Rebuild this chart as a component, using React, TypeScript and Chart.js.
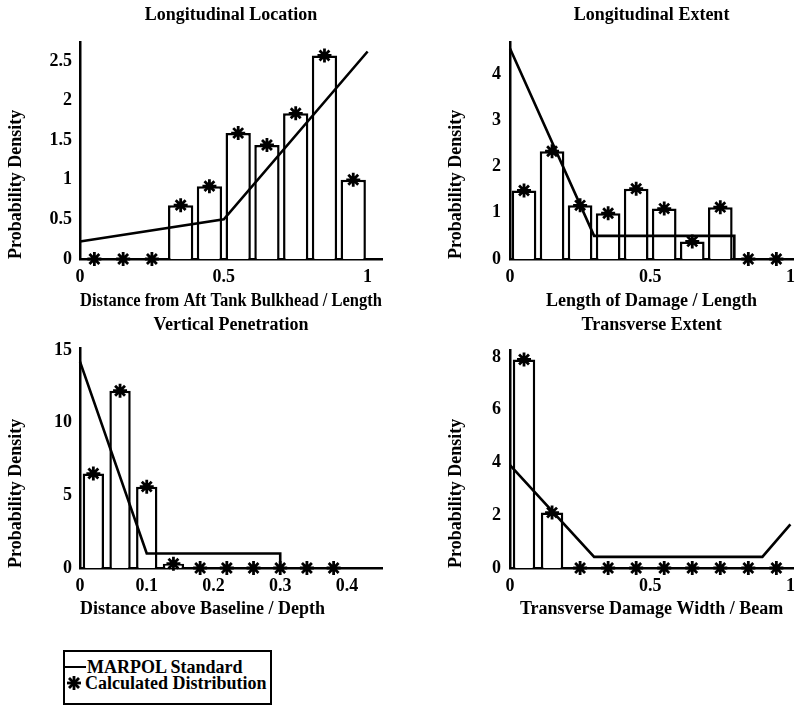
import React, { useEffect, useRef } from "react";
import { Chart, registerables } from "chart.js";

Chart.register(...registerables);

const FONT_FAMILY = "'Liberation Serif', 'Times New Roman', Times, serif";
Chart.defaults.font.family = FONT_FAMILY;
Chart.defaults.font.size = 18;
Chart.defaults.font.weight = "bold";
Chart.defaults.color = "#000";

// ---------- Data ----------
// Longitudinal Location
const locBinCenters = [0.05, 0.15, 0.25, 0.35, 0.45, 0.55, 0.65, 0.75, 0.85, 0.95];
const locCalculated = [0, 0, 0, 0.68, 0.92, 1.59, 1.44, 1.84, 2.57, 1.0];
const locMarpolX = [0, 0.5, 1.0];
const locMarpolY = [0.22, 0.5, 2.62];
const locXTicks = [0, 0.5, 1];
const locXTickLabels = ["0", "0.5", "1"];
const locYTicks = [0, 0.5, 1, 1.5, 2, 2.5];
const locYTickLabels = ["0", "0.5", "1", "1.5", "2", "2.5"];

// Longitudinal Extent
const extBinCenters = [0.05, 0.15, 0.25, 0.35, 0.45, 0.55, 0.65, 0.75, 0.85, 0.95];
const extCalculated = [1.48, 2.33, 1.16, 0.99, 1.52, 1.09, 0.38, 1.12, 0, 0];
const extMarpolX = [0, 0.3, 0.8, 0.8];
const extMarpolY = [4.55, 0.5, 0.5, 0];
const extXTicks = [0, 0.5, 1];
const extXTickLabels = ["0", "0.5", "1"];
const extYTicks = [0, 1, 2, 3, 4];
const extYTickLabels = ["0", "1", "2", "3", "4"];

// Vertical Penetration
const vertBinCenters = [0.02, 0.06, 0.1, 0.14, 0.18, 0.22, 0.26, 0.3, 0.34, 0.38];
const vertCalculated = [6.5, 12.2, 5.6, 0.3, 0, 0, 0, 0, 0, 0];
const vertMarpolX = [0, 0.1, 0.3, 0.3];
const vertMarpolY = [14.2, 1.0, 1.0, 0];
const vertXTicks = [0, 0.1, 0.2, 0.3, 0.4];
const vertXTickLabels = ["0", "0.1", "0.2", "0.3", "0.4"];
const vertYTicks = [0, 5, 10, 15];
const vertYTickLabels = ["0", "5", "10", "15"];

// Transverse Extent
const transBinCenters = [0.05, 0.15, 0.25, 0.35, 0.45, 0.55, 0.65, 0.75, 0.85, 0.95];
const transCalculated = [7.9, 2.1, 0, 0, 0, 0, 0, 0, 0, 0];
const transMarpolX = [0, 0.3, 0.9, 1.0];
const transMarpolY = [3.9, 0.42, 0.42, 1.65];
const transXTicks = [0, 0.5, 1];
const transXTickLabels = ["0", "0.5", "1"];
const transYTicks = [0, 2, 4, 6, 8];
const transYTickLabels = ["0", "2", "4", "6", "8"];

const Y_TITLE = "Probability Density";
const LEGEND_MARPOL = "MARPOL Standard";
const LEGEND_CALC = "Calculated Distribution";

// ---------- Panels (data refs + layout) ----------
type PanelDef = {
  title: string;
  xTitle: string;
  xTitleAlign: "start" | "center" | "end";
  centers: number[];
  calc: number[];
  mx: number[];
  my: number[];
  xTicks: number[];
  xLabels: string[];
  yTicks: number[];
  yLabels: string[];
  xMax: number;
  yMax: number;
  barPct: number;
  left: number;
  top: number;
  width: number;
  height: number;
  yAxisW: number;
  xAxisH: number;
  padRight: number;
  titleTop: number;
  titleBottom: number;
  yTitlePad: number;
  yTickPad: number;
};

const panels: PanelDef[] = [
  {
    title: "Longitudinal Location",
    xTitle: "Distance from Aft Tank Bulkhead / Length",
    xTitleAlign: "center",
    centers: locBinCenters, calc: locCalculated, mx: locMarpolX, my: locMarpolY,
    xTicks: locXTicks, xLabels: locXTickLabels, yTicks: locYTicks, yLabels: locYTickLabels,
    xMax: 1.05, yMax: 2.74, barPct: 0.88,
    left: 0, top: 0, width: 400, height: 312,
    yAxisW: 80, xAxisH: 53, padRight: 18, titleTop: 5, titleBottom: 15.4, yTitlePad: 5.2, yTickPad: 8,
  },
  {
    title: "Longitudinal Extent",
    xTitle: "Length of Damage / Length",
    xTitleAlign: "center",
    centers: extBinCenters, calc: extCalculated, mx: extMarpolX, my: extMarpolY,
    xTicks: extXTicks, xLabels: extXTickLabels, yTicks: extYTicks, yLabels: extYTickLabels,
    xMax: 1.01, yMax: 4.69, barPct: 0.88,
    left: 400, top: 0, width: 403, height: 312,
    yAxisW: 110, xAxisH: 53, padRight: 3, titleTop: 5, titleBottom: 15.4, yTitlePad: 46, yTickPad: 9,
  },
  {
    title: "Vertical Penetration",
    xTitle: "Distance above Baseline / Depth",
    xTitleAlign: "start",
    centers: vertBinCenters, calc: vertCalculated, mx: vertMarpolX, my: vertMarpolY,
    xTicks: vertXTicks, xLabels: vertXTickLabels, yTicks: vertYTicks, yLabels: vertYTickLabels,
    xMax: 0.4525, yMax: 15.14, barPct: 0.8,
    left: 0, top: 300, width: 400, height: 320,
    yAxisW: 80, xAxisH: 52, padRight: 18, titleTop: 14.2, titleBottom: 12.2, yTitlePad: 5.2, yTickPad: 8,
  },
  {
    title: "Transverse Extent",
    xTitle: "Transverse Damage Width / Beam",
    xTitleAlign: "center",
    centers: transBinCenters, calc: transCalculated, mx: transMarpolX, my: transMarpolY,
    xTicks: transXTicks, xLabels: transXTickLabels, yTicks: transYTicks, yLabels: transYTickLabels,
    xMax: 1.01, yMax: 8.26, barPct: 0.8,
    left: 400, top: 300, width: 403, height: 320,
    yAxisW: 110, xAxisH: 52, padRight: 3, titleTop: 14.2, titleBottom: 14.2, yTitlePad: 46, yTickPad: 9,
  },
];

const font18 = { family: FONT_FAMILY, size: 18, weight: "bold" as const, lineHeight: 1.2 };

function Panel({ p }: { p: PanelDef }) {
  const ref = useRef<HTMLCanvasElement>(null);
  useEffect(() => {
    const chart = new Chart(ref.current as HTMLCanvasElement, {
      type: "bar",
      data: {
        datasets: [
          {
            type: "scatter",
            label: LEGEND_CALC,
            data: p.centers.map((x, i) => ({ x, y: p.calc[i] })),
            pointStyle: "star",
            pointRadius: 7,
            pointBorderWidth: 2.8,
            pointBorderColor: "#000",
            pointBackgroundColor: "#000",
            order: 0,
            clip: false,
          } as any,
          {
            type: "line",
            label: LEGEND_MARPOL,
            data: p.mx.map((x, i) => ({ x, y: p.my[i] })),
            borderColor: "#000",
            borderWidth: 2.6,
            pointRadius: 0,
            tension: 0,
            fill: false,
            order: 1,
            clip: false,
          } as any,
          {
            type: "bar",
            label: "Histogram",
            data: p.centers.map((x, i) => ({ x, y: p.calc[i] })),
            backgroundColor: "#fff",
            borderColor: "#000",
            borderWidth: 2.5,
            barPercentage: p.barPct,
            categoryPercentage: 1,
            order: 2,
          } as any,
        ],
      },
      options: {
        responsive: false,
        animation: false,
        devicePixelRatio: 1,
        layout: { padding: { left: 0, right: p.padRight, top: 0, bottom: 0 } },
        plugins: {
          legend: { display: false },
          tooltip: { enabled: false },
          title: {
            display: true,
            text: p.title,
            fullSize: false,
            color: "#000",
            font: font18,
            padding: { top: p.titleTop, bottom: p.titleBottom },
          },
        },
        scales: {
          x: {
            type: "linear",
            min: 0,
            max: p.xMax,
            offset: false,
            grid: { display: false, drawTicks: false },
            border: { display: true, width: 2.5, color: "#000" },
            ticks: {
              autoSkip: false,
              maxRotation: 0,
              padding: 8,
              color: "#000",
              font: font18,
              callback: (_v: any, i: number) => p.xLabels[i],
            },
            afterBuildTicks: (s: any) => {
              s.ticks = p.xTicks.map((v) => ({ value: v }));
            },
            afterFit: (s: any) => {
              s.height = p.xAxisH;
            },
            title: {
              display: true,
              text: p.xTitle,
              align: p.xTitleAlign,
              color: "#000",
              font: font18,
              padding: { top: 0, bottom: 0 },
            },
          },
          y: {
            type: "linear",
            min: 0,
            max: p.yMax,
            grid: { display: false, drawTicks: false },
            border: { display: true, width: 2.5, color: "#000" },
            ticks: {
              autoSkip: false,
              padding: p.yTickPad,
              color: "#000",
              font: font18,
              callback: (_v: any, i: number) => p.yLabels[i],
            },
            afterBuildTicks: (s: any) => {
              s.ticks = p.yTicks.map((v) => ({ value: v }));
            },
            afterFit: (s: any) => {
              s.width = p.yAxisW;
            },
            title: {
              display: true,
              text: Y_TITLE,
              align: "start",
              color: "#000",
              font: font18,
              padding: { top: p.yTitlePad, bottom: 0 },
            },
          },
        },
      } as any,
    });
    return () => chart.destroy();
  }, [p]);
  return (
    <canvas
      ref={ref}
      width={p.width}
      height={p.height}
      style={{ position: "absolute", left: p.left, top: p.top, width: p.width, height: p.height }}
    />
  );
}

function Legend() {
  const textStyle: React.CSSProperties = {
    fontFamily: FONT_FAMILY,
    fontWeight: "bold",
    fontSize: 18,
    lineHeight: "16px",
    whiteSpace: "nowrap",
    color: "#000",
  };
  return (
    <div
      style={{
        position: "absolute",
        left: 63,
        top: 650,
        width: 209,
        height: 55,
        border: "2px solid #000",
        boxSizing: "border-box",
        background: "#fff",
      }}
    >
      <div style={{ position: "absolute", left: 0, top: 7, ...textStyle, display: "flex", alignItems: "center" }}>
        <span style={{ display: "inline-block", width: 21, height: 0, borderTop: "2.5px solid #000", marginRight: 1 }} />
        <span>{LEGEND_MARPOL}</span>
      </div>
      <div style={{ position: "absolute", left: 0, top: 23, ...textStyle, display: "flex", alignItems: "center" }}>
        <svg width={20} height={16} style={{ display: "block" }}>
          <g stroke="#000" strokeWidth={2.8}>
            <line x1={9} y1={1} x2={9} y2={15} />
            <line x1={2} y1={8} x2={16} y2={8} />
            <line x1={4} y1={3} x2={14} y2={13} />
            <line x1={4} y1={13} x2={14} y2={3} />
          </g>
        </svg>
        <span>{LEGEND_CALC}</span>
      </div>
    </div>
  );
}

export default function App() {
  return (
    <div
      style={{
        position: "absolute",
        left: 0,
        top: 0,
        width: 803,
        height: 707,
        overflow: "hidden",
        background: "#fff",
      }}
    >
      {panels.map((p, i) => (
        <Panel key={i} p={p} />
      ))}
      <Legend />
    </div>
  );
}
